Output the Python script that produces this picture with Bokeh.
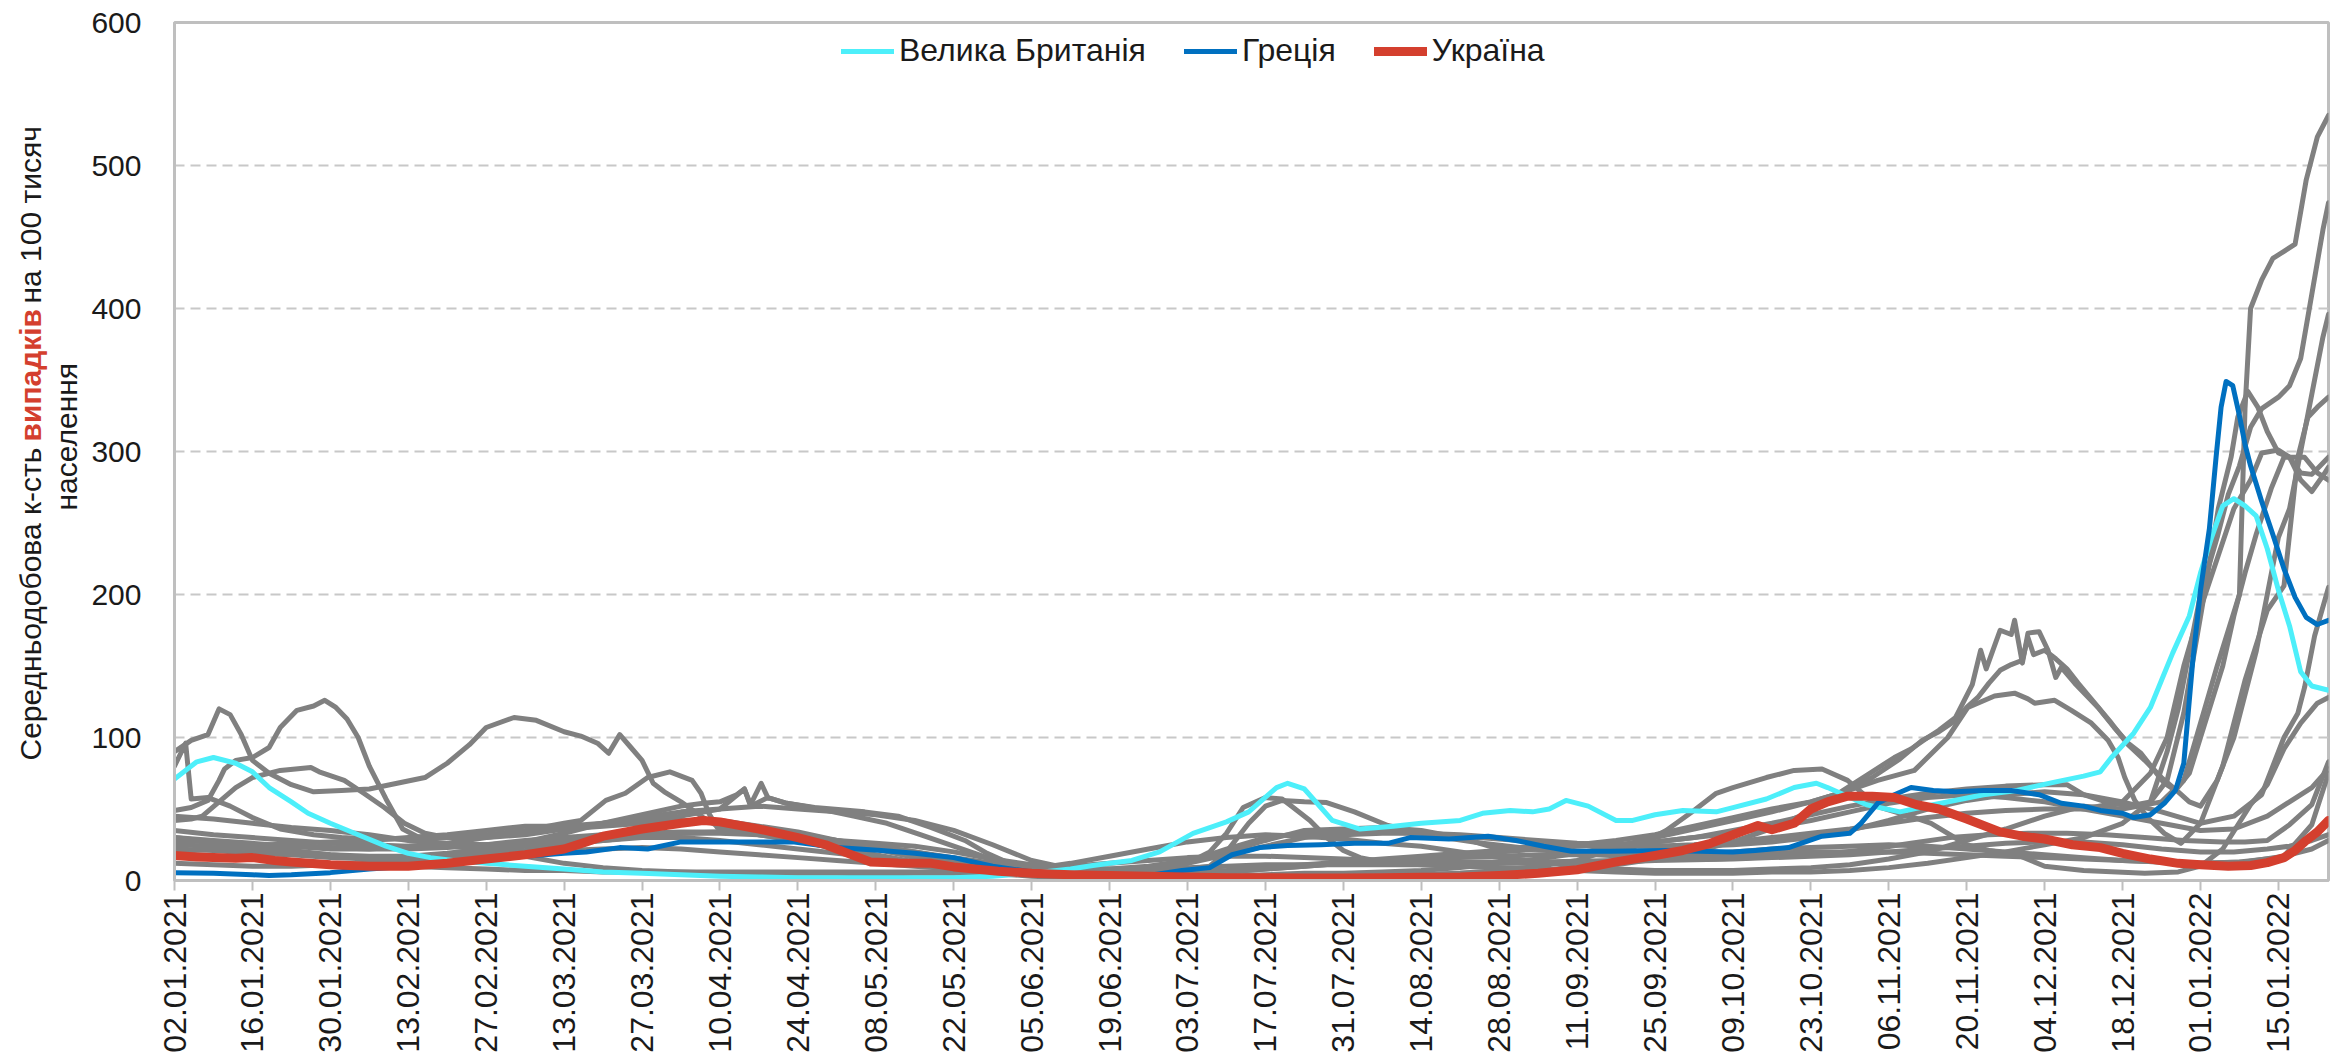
import math
from datetime import datetime
from bokeh.plotting import figure
from bokeh.layouts import row
from bokeh.models import Range1d, FixedTicker, Legend, LegendItem
from bokeh.core.properties import value
from bokeh.embed import file_html
from bokeh.resources import INLINE

# ---------------- data ----------------
start_date = "02.01.2021"
end_day = 387  # 24.01.2022, days after start_date

tick_labels = ["02.01.2021", "16.01.2021", "30.01.2021", "13.02.2021", "27.02.2021",
               "13.03.2021", "27.03.2021", "10.04.2021", "24.04.2021", "08.05.2021",
               "22.05.2021", "05.06.2021", "19.06.2021", "03.07.2021", "17.07.2021",
               "31.07.2021", "14.08.2021", "28.08.2021", "11.09.2021", "25.09.2021",
               "09.10.2021", "23.10.2021", "06.11.2021", "20.11.2021", "04.12.2021",
               "18.12.2021", "01.01.2022", "15.01.2022"]
y_ticks = [0, 100, 200, 300, 400, 500, 600]

# (day after 02.01.2021, average daily cases per 100k)
uk = [(0,71),(4,83),(7,86),(11,82),(14,76),(17,65),(21,55),(24,47),(28,40),(33,32),(38,24),(42,19),(46,16),(50,14),
      (56,12),(63,10),(70,8),(77,6),(84,5),(91,4),(98,3),(105,2.5),(112,2),(119,2),(126,2),(133,2),(140,2),(147,3),
      (154,5),(161,8),(165,10.5),(168,12),(172,14),(177,20),(183,33),(189,41),(193,48),(198,65),(200,68),(203,64),
      (208,42),(213,36),(219,38),(224,40),(231,42),(235,47),(240,49),(244,48),(247,50),(250,56),(254,52),(259,42),
      (262,42),(266,46),(271,49),(277,48),(280,51),(286,57),(291,65),(295,68),(297,65),(304,53),(310,48),(316,53),
      (325,60),(331,63),(338,69),(343,73),(346,76),(348,86),(352,103),(355,121),(357,140),(359,159),(362,185),
      (364,215),(366,240),(368,262),(370,267),(372,262),(374,255),(376,232),(378,203),(380,178),(382,146),
      (384,136),(387,133)]

greece = [(0,5.5),(7,5),(14,4),(17,3.5),(21,4),(28,5.5),(35,8),(42,10),(49,12),(56,15),(63,17),(70,19),(74,20),
          (80,23),(85,22),(91,27),(98,27),(105,27),(111,27),(119,23),(127,21),(133,19),(140,16),(147,10),(154,6),
          (161,4),(168,3),(175,3.5),(181,7),(186,9),(190,18),(195,23),(200,24.5),(206,25),(212,26),(218,26),
          (222,30),(229,29),(236,31),(241,28),(246,24),(251,20.5),(258,20.5),(268,21),(280,20),(284,21),(290,23),
          (296,31),(301,33),(303,40),(306,54),(309,60),(312,65),(316,63),(320,62),(325,63),(330,63),(335,60),
          (339,54),(343,52),(346,49),(350,47),(352,44),(355,46),(357.5,54),(359.5,63),(361,82),(362.6,153),
          (364,203),(365.6,246),(366.8,296),(367.7,331),(368.6,349),(369.8,346),(371,325),(372,305),(373,290),
          (375,265),(377,242),(379,218),(381,198),(383,184),(385,179),(387,182)]

ukraine = [(0,17.5),(4,16.5),(7,16),(11,15.5),(14,16),(18,14),(21,13),(28,11),(35,10),(42,10),(49,12),(56,15),
           (63,18),(70,22),(74,27),(77,31),(84,36),(91,40),(95,42),(98,41),(105,36),(112,30),(117,25),(121,19),
           (125,13),(130,12.3),(136,12),(140,9.5),(148,6.5),(154,5),(161,4),(168,3.5),(175,3),(182,2.5),(189,2),
           (196,2),(203,1.8),(210,1.8),(217,2),(224,2.2),(231,2.5),(238,3.5),(245,5),(252,7.5),(259,13),
           (266,17.5),(271,21),(276,26),(280,32),(284.5,38.5),(287,35.5),(291,40),(294,50),(297,55),(300.6,59),
           (305,59),(309,58),(313,53),(317,50),(322,43),(328,34),(332,31),(336,29),(341,25),(346,23),(350,19),
           (355,15),(360,12),(364,11),(369,10),(373,10.5),(376,12.5),(379,16),(381,21),(383,28),(385,34),(387,42)]

other_1 = [(0,90),(3,98),(6,102),(8,120),(10,116),(12,102),(14,84),(17,75),(21,67),(25,62),(30,63),(35,64),(40,68),
           (45,72),(49,82),(53,95),(56,107),(61,114),(65,112),(70,104),(73,101),(76,96),(78,89),(80,102),(82,93),
           (84,84),(86,68),(88,62),(91,55),(95,44),(98,37),(105,32),(112,28),(119,23),(126,18),(133,13),(140,9),
           (147,6),(154,4),(161,3),(168,2.5),(175,2),(182,2),(189,2),(196,2.5),(203,3),(210,3),(217,3.5),(224,4),
           (231,5),(238,6),(245,7),(252,9),(259,11),(266,15),(273,20),(280,27),(286,35),(292,45),(297,56),(301,66),
           (305,76),(309,86),(312,92),(315,100),(317,105),(320,114),(323,137),(324.5,161),(325.5,148),(328,175),
           (330,172),(330.6,182),(332,152),(333,173),(335,174),(336.6,161),(338,142),(339,149),(341.4,138),
           (345.6,121),(348.5,107),(351,96),(353.3,89),(355.7,77),(357.5,68),(359.5,63),(362,75),(364,100),
           (366,125),(368,150),(370,185),(372,215),(374,242),(376.7,274),(379,296),(382.7,296),(385,285),(387,280)]

other_2 = [(0,49),(3,51),(6,56),(8,70),(9,78),(11,84),(14,86),(17,93),(19,107),(22,119),(25,122),(27,126),(29,121),
           (31,113),(33,100),(35,80),(38,57),(41,36),(45,28),(50,24),(56,21),(63,17),(70,12),(77,9),(84,7),(91,6),
           (98,5),(105,5),(112,5),(119,5),(126,4.5),(133,5),(140,5),(147,6),(154,8),(161,12),(168,17),(175,22),
           (182,27),(189,30),(196,32),(203,31),(210,29),(217,26),(224,24),(231,20),(238,16),(245,13),(252,10),
           (259,8),(266,7),(273,7),(280,7),(287,8),(294,9),(301,11),(308,15),(315,20),(322,28),(329,36),(336,45),
           (343,52),(350,50),(357,55),(361,70),(364,110),(367,150),(369,175),(371,200),(372,330),(373,400),
           (375,420),(377,435),(379,440),(381,445),(383,490),(385,520),(387,535)]

other_3 = [(0,42),(3,43),(5,45),(8,55),(11,65),(14,72),(19,77),(24.5,79),(26,76),(30.5,70),(34,61),(37.7,51),
           (41.3,40),(45,33),(49,30),(56,30),(63,32),(70,36),(77,40),(84,44),(91,48),(98,50),(102.4,64),(103.5,52),
           (106.6,58),(110,54),(115,51),(124,48),(130,45),(136,37),(142,28),(146,19),(150,12),(154,9),(161,7),
           (168,6),(175,8),(182,12),(186,20),(189,33),(192,51),(196,58),(199,57),(201,51),(204,42),(207,30),
           (210,21),(213,16),(217,13),(224,11),(231,10),(238,9),(245,8),(252,7),(259,6),(266,5),(273,5),(280,5),
           (287,6),(294,6),(301,7),(308,9),(315,12),(322,16),(329,20),(336,25),(343,30),(350,40),(355,55),(358,90),
           (360,120),(362,160),(364,200),(367,240),(369,270),(371,290),(373,317),(375,330),(378,338),(380,346),
           (382,365),(384,410),(386,455),(387,474)]

other_4 = [(0,80),(2,96),(3,57),(6,58),(10,52),(14,44),(19,36),(25,32),(30,30),(35,29),(42,29),(49,30),(56,32),
           (63,35),(70,40),(73,42),(77.5,56),(81,61),(85,72),(89,76),(93,70),(94.6,61),(96,47),(97.5,37),(105,32),
           (112,28),(119,22),(126,16),(133,11),(140,8),(147,5),(154,3),(161,2),(168,1.5),(182,1.5),(196,2),
           (210,2.5),(217,3),(224,4),(231,5),(238,7),(245,10),(252,14),(256,19),(262,23),(268,35),(273,49),
           (277,61),(280,65),(286,72),(291,77),(296,78),(300.6,70),(304.2,58),(306.6,51),(312.6,44),(315.6,40),
           (318.6,33),(322,25),(326,21),(331,18),(336,10),(343,7),(354,5),(360,6),(364,10),(368,22),(373,53),
           (376,67),(379,92),(382,110),(385,124),(387,128)]

other_5 = [(0,25),(7,24),(14,22),(21,20),(28,18),(35,17),(42,17),(49,19),(56,22),(63,27),(70,33),(77,40),(84,46),
           (91,52),(95,54),(98,55),(101,60),(102.4,64),(103.5,53),(105.4,68),(106.6,58),(110,54),(116,50),(122,45),
           (128,40),(134,32),(140,24),(146,16),(152,10),(160,6),(168,4),(175,3),(182,3),(189,3),(196,4),(203,5),
           (210,5),(217,6),(224,7),(231,9),(238,12),(245,15),(252,19),(259,24),(266,30),(273,36),(280,42),
           (287,48),(294,55),(300,62),(305,72),(310,85),(314,98),(317,104),(320,112),(322,121),(324,128),
           (326,138),(328,147),(330,151),(332,154),(333,170),(334,158),(336,161),(338,155),(340,148),(342,138),
           (345,124),(348,110),(351,95),(354,84),(357,72),(360,62),(362,55),(364,52),(367,70),(370,100),
           (372,130),(374,160),(376,200),(378,240),(380,260),(382,300),(384,340),(386,380),(387,396)]

other_6 = [(0,20),(7,22),(14,24),(21,26),(28,27),(35,28),(42,30),(49,32),(56,35),(63,38),(70,38),(77,40),(84,42),
           (91,45),(98,50),(105,52),(112,50),(119,48),(126,46),(133,42),(140,35),(147,25),(154,14),(161,8),
           (168,6),(175,5),(182,5),(189,6),(196,8),(203,10),(210,12),(217,14),(224,16),(231,18),(238,20),(245,22),
           (252,25),(259,28),(266,32),(273,38),(280,44),(287,50),(294,55),(300,62),(306,70),(312.6,77),
           (318.6,100),(322.2,121),(327,129),(330.6,131),(333,127),(334.2,124),(337.8,126),(340.8,119),
           (344.4,110),(347.4,98),(349.2,86),(350.4,72),(352.2,56),(354.5,44),(357.5,33),(360.5,26),(364,40),
           (368,80),(372,140),(376,189),(379,206),(381.5,296),(383.3,324),(385,331),(387,338)]

other_7 = [(0,12),(7,11),(14,10),(21,10),(28,11),(35,12),(42,14),(49,17),(56,20),(63,24),(70,28),(77,32),(84,36),
           (91,40),(98,42),(105,38),(112,34),(119,28),(126,22),(133,16),(140,12),(147,8),(154,6),(161,5),(168,6),
           (175,8),(182,12),(189,18),(196,24),(203,30),(210,32),(217,33),(224,33),(231,32),(238,30),(245,28),
           (252,26),(259,25),(266,27),(273,30),(280,35),(287,40),(294,46),(301,52),(308,57),(315,61),(322,64),
           (329,66),(336,67),(340,67),(343,60),(347,55),(351,52),(355,55),(358,70),(361,117),(364.2,189),(366,231),
           (367.2,260),(369.5,296),(370.7,324),(372.5,342),(374.3,331),(376,314),(378,299),(380,296),(382,285),
           (384,284),(386,292),(387,296)]

other_8 = [(0,30),(7,28),(14,26),(21,24),(28,22),(35,22),(42,24),(49,26),(56,30),(63,34),(70,36),(77,38),(84,40),
           (91,42),(98,40),(105,36),(112,32),(119,28),(126,24),(133,20),(140,16),(147,12),(154,9),(161,8),(168,8),
           (175,10),(182,14),(189,20),(196,28),(203,35),(210,36),(217,37),(224,35),(231,30),(238,22),(245,24),
           (252,25),(259,25),(266,24),(273,24),(280,25),(287,27),(294,30),(301,35),(308,42),(315,50),(322,56),
           (329,60),(336,62),(343,60),(350,55),(357,48),(364,40),(370,45),(375,60),(379,100),(381.5,117),
           (382.7,135),(384.5,171),(387,205)]

other_9 = [(0,35),(7,32),(14,30),(21,28),(28,26),(35,25),(42,24),(49,24),(56,25),(63,26),(70,27),(77,28),(84,30),
           (91,30),(98,28),(105,25),(112,22),(119,19),(126,16),(133,12),(140,9),(147,7),(154,5),(161,5),(168,5),
           (175,6),(182,8),(186,10),(189,20),(193,40),(196,52),(199,56),(203,55),(207,54.5),(212,48),(218,38.5),
           (222,35),(228,30),(235,26),(242,23),(249,20),(256,18),(263,16),(270,15),(277,15),(284,16),(291,17),
           (298,19),(305,22),(312,26),(319,30),(326,32),(333,33),(340,33),(347,32),(354,30),(361,28),(368,27),
           (372,27),(376,28),(380,39),(384,53),(387,83)]

other_10 = [(0,22),(7,21),(14,19),(21,18),(28,16),(35,15),(42,15),(49,16),(56,17),(63,19),(70,21),(77,22),(84,23),
            (91,22),(98,20),(105,18),(112,16),(119,14),(126,12),(133,10),(140,8),(147,6),(154,5),(161,4),(168,4),
            (175,4),(182,5),(189,6),(196,8),(203,10),(210,12),(217,14),(224,15),(231,16),(238,17),(245,18),
            (252,18),(259,18),(266,18),(273,18),(280,18),(287,19),(294,20),(301,20),(308,20),(315,19),(322,18),
            (329,17),(336,16),(343,15),(350,14),(357,13),(364,12),(372,13),(379,17),(384,39),(387,75)]

other_11 = [(0,16),(7,16),(14,15),(21,14),(28,12),(35,11),(42,10),(49,9),(56,8),(63,7),(70,7),(77,6),(84,6),
            (98,6),(112,6),(126,6),(140,6),(147,7),(154,8),(161,10),(168,12),(175,14),(182,16),(189,17),(196,17),
            (203,16),(210,15),(217,14),(224,14),(231,13),(245,13),(259,14),(266,15),(273,18),(280,20),(287,22),
            (294,23),(301,24),(308,25),(315,24),(322,22),(329,20),(336,18),(343,16),(350,14),(357,13),(364,12),
            (371,13),(378,16),(384,22),(387,28)]

other_12 = [(0,45),(7,43),(14,40),(21,37),(28,35),(35,32),(42,28),(49,26),(56,25),(63,26),(70,28),(77,30),(84,32),
            (91,33),(98,33),(105,32),(112,30),(119,27),(126,24),(133,20),(140,15),(147,11),(154,8),(161,6),(168,5),
            (175,5),(182,6),(189,7),(196,9),(203,11),(210,13),(217,15),(224,17),(231,19),(238,21),(245,22),
            (252,24),(259,25),(266,27),(273,30),(280,33),(287,37),(294,42),(301,48),(308,54),(315,58),(322,60),
            (329,58),(336,55),(343,50),(350,45),(357,40),(364,35),(370,36),(376,45),(380,55),(384,65),(387,78)]

other_13 = [(0,28),(7,27),(14,25),(21,24),(28,23),(35,22),(42,22),(49,23),(56,25),(63,28),(70,30),(77,32),(84,33),
            (91,34),(98,34),(105,33),(112,31),(119,28),(126,26),(133,24),(140,20),(147,15),(154,11),(161,9),
            (168,8),(175,8),(182,9),(189,10),(196,11),(210,11),(224,11),(238,12),(252,12),(259,13),(266,14),
            (280,15),(287,16),(294,17),(301,18),(308,20),(315,22),(322,24),(329,26),(336,27),(343,27),(350,25),
            (357,22),(364,20),(370,20),(376,22),(380,24),(384,28),(387,32)]

other_14 = [(0,30),(7,27),(14,24),(21,21),(28,18),(35,16),(42,15),(49,16),(56,18),(63,21),(70,25),(77,28),(84,31),
            (91,33),(98,34),(105,33),(112,30),(119,26),(126,22),(133,17),(140,13),(147,10),(154,8),(161,7),(168,7),
            (175,9),(182,13),(189,22),(196,30),(203,33),(210,34),(217,34),(224,33),(231,31),(238,29),(245,27),
            (252,25),(259,24),(266,24),(273,25),(280,27),(287,30),(294,33),(301,36),(308,40),(315,44),(322,47),
            (329,49),(336,50),(343,50),(350,55),(355,75),(358,100),(361,150),(364,190),(367,225),(370,260),
            (373,280),(375,299),(378,301),(380,296),(382,280),(384,272),(386,283),(387,289)]

others = [other_1, other_2, other_3, other_4, other_5, other_6, other_7,
          other_8, other_9, other_10, other_11, other_12, other_13, other_14]

# y-axis title pieces
ytitle_line1 = ["Середньодобова к-сть", "випадків", "на 100 тисяч"]
ytitle_line2 = "населення"

# ---------------- styles / layout ----------------
FONT = "Liberation Sans"
TXT = "#1a1a1a"
GRAY = "#808080"
C_UK = "#4DEFFA"
C_GR = "#0070C0"
C_UA = "#D43F2E"
AX = "#BFBFBF"

W_TOTAL = 2340
H = 1060
SIDE_W = 88
TOP = 22
BOTTOM = 180
FRAME_BOTTOM = H - BOTTOM   # 880

p = figure(width=W_TOTAL - SIDE_W, height=H, x_range=Range1d(0, end_day), y_range=Range1d(0, 600),
           output_backend="svg", toolbar_location=None, title=None,
           min_border_left=86, min_border_right=12, min_border_top=TOP, min_border_bottom=BOTTOM)
p.background_fill_color = "white"
p.border_fill_color = "white"
p.outline_line_color = AX
p.outline_line_width = 3

def split(pts):
    return [a for a, b in pts], [b for a, b in pts]

for s in others:
    xs, ys = split(s)
    p.line(xs, ys, line_color=GRAY, line_width=5, line_join="round", line_cap="round")

xs, ys = split(uk)
r_uk = p.line(xs, ys, line_color=C_UK, line_width=5, line_join="round", line_cap="round")
xs, ys = split(greece)
r_gr = p.line(xs, ys, line_color=C_GR, line_width=5, line_join="round", line_cap="round")
xs, ys = split(ukraine)
r_ua = p.line(xs, ys, line_color=C_UA, line_width=9, line_join="round", line_cap="round")

# x axis: dates every 14 days
d0 = datetime.strptime(start_date, "%d.%m.%Y")
tick_days = [(datetime.strptime(s, "%d.%m.%Y") - d0).days for s in tick_labels]
p.xaxis.ticker = FixedTicker(ticks=tick_days)
p.xaxis.major_label_overrides = {d: s for d, s in zip(tick_days, tick_labels)}
p.xaxis.major_label_orientation = math.pi / 2
p.xaxis.major_tick_out = 10
p.xaxis.major_tick_in = 0
p.xaxis.minor_tick_line_color = None
p.xaxis.major_tick_line_color = AX
p.xaxis.major_tick_line_width = 2
p.xaxis.axis_line_color = AX
p.xaxis.axis_line_width = 3
p.xaxis.major_label_standoff = 2
p.xaxis.major_label_text_font = FONT
p.xaxis.major_label_text_font_size = "32px"
p.xaxis.major_label_text_color = TXT

p.yaxis.ticker = FixedTicker(ticks=y_ticks)
p.yaxis.major_tick_out = 0
p.yaxis.major_tick_in = 0
p.yaxis.minor_tick_line_color = None
p.yaxis.axis_line_color = AX
p.yaxis.axis_line_width = 3
p.yaxis.major_label_standoff = 33
p.yaxis.major_label_text_font = FONT
p.yaxis.major_label_text_font_size = "30px"
p.yaxis.major_label_text_color = TXT

p.xgrid.visible = False
p.ygrid.grid_line_color = "#C8C8C8"
p.ygrid.grid_line_width = 2
p.ygrid.grid_line_dash = "10 6"

legend = Legend(items=[LegendItem(label="Велика Британія", renderers=[r_uk]),
                       LegendItem(label="Греція", renderers=[r_gr]),
                       LegendItem(label="Україна", renderers=[r_ua])],
                orientation="horizontal", location=(667, 811),
                glyph_width=53, glyph_height=36, label_height=36, label_standoff=5, spacing=38,
                padding=0, margin=0, border_line_alpha=0, background_fill_alpha=0,
                label_text_font=FONT, label_text_font_size="32px", label_text_color=TXT)
p.add_layout(legend)

# side panel for the rotated y-axis title; its frame is aligned with the main frame,
# so its ranges are expressed in page pixels (y flipped: larger = lower)
side = figure(width=SIDE_W, height=H, x_range=Range1d(0, SIDE_W),
              y_range=Range1d(FRAME_BOTTOM, TOP),
              output_backend="svg", toolbar_location=None, title=None,
              x_axis_type=None, y_axis_type=None,
              min_border_left=0, min_border_right=0, min_border_top=TOP, min_border_bottom=BOTTOM)
side.grid.visible = False
side.outline_line_color = None
side.background_fill_color = "white"
side.border_fill_color = "white"

tkw = dict(angle=math.pi / 2, text_align="left", text_baseline="middle",
           text_font=value(FONT), text_font_size=value("30px"))
# text runs upward from its start point
side.text(x=[30], y=[760], text=[ytitle_line1[0]], text_color=TXT, **tkw)
side.text(x=[30], y=[441], text=[ytitle_line1[1]], text_color=C_UA, text_font_style="bold", **tkw)
side.text(x=[30], y=[303], text=[ytitle_line1[2]], text_color=TXT, **tkw)
side.text(x=[66], y=[510], text=[ytitle_line2], text_color=TXT, **tkw)

layout = row(side, p)
open("out.html", "w").write(file_html(layout, INLINE, title="chart"))
